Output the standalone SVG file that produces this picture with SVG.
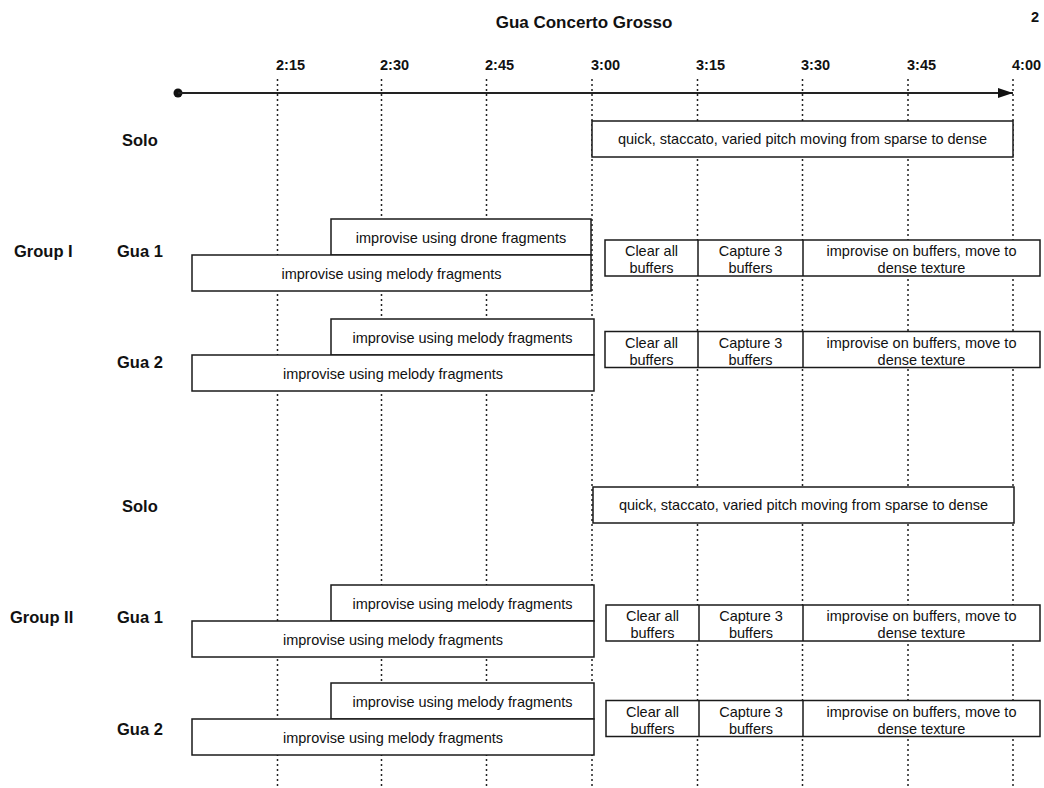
<svg xmlns="http://www.w3.org/2000/svg" width="1044" height="788" viewBox="0 0 1044 788">
<defs>
<style>
text{font-family:"Liberation Sans",Arial,Helvetica,sans-serif;fill:#111}
.title{font-size:17px;font-weight:bold}
.tick{font-size:14.5px;font-weight:bold}
.lab{font-size:16.5px;font-weight:bold}
.bt{font-size:14.5px;text-anchor:middle}
.box{fill:#fff;stroke:#1a1a1a;stroke-width:1.5}
.grid line{stroke:#222;stroke-width:1.5;stroke-dasharray:2 3}
</style>
<marker id="arr" viewBox="0 0 15 10" refX="15" refY="5" markerWidth="15" markerHeight="10" markerUnits="userSpaceOnUse" orient="auto">
<path d="M0,0 L15,5 L0,10 Z" fill="#111"/>
</marker>
</defs>
<rect width="1044" height="788" fill="#fff"/>
<text class="title" x="584" y="28" text-anchor="middle">Gua Concerto Grosso</text>
<text class="tick" x="1031" y="22">2</text>
<g id="ticks" class="tick">
<text class="tick" x="276" y="70">2:15</text>
<text class="tick" x="380" y="70">2:30</text>
<text class="tick" x="485" y="70">2:45</text>
<text class="tick" x="591" y="70">3:00</text>
<text class="tick" x="696" y="70">3:15</text>
<text class="tick" x="801" y="70">3:30</text>
<text class="tick" x="907" y="70">3:45</text>
<text class="tick" x="1012" y="70">4:00</text>
</g>
<g class="grid" id="grid">
<line x1="277.5" y1="79" x2="277.5" y2="788"/>
<line x1="381.5" y1="79" x2="381.5" y2="788"/>
<line x1="486.5" y1="79" x2="486.5" y2="788"/>
<line x1="592" y1="79" x2="592" y2="788"/>
<line x1="697.5" y1="79" x2="697.5" y2="788"/>
<line x1="802.5" y1="79" x2="802.5" y2="788"/>
<line x1="908" y1="79" x2="908" y2="788"/>
<line x1="1013" y1="79" x2="1013" y2="788"/>
</g>
<g id="connectors">
<circle cx="178" cy="93" r="4.5" fill="#111"/>
<line x1="178" y1="93" x2="1013" y2="93" stroke="#222" stroke-width="2" marker-end="url(#arr)"/>
</g>
<g id="labels">
<text class="lab" x="122" y="146">Solo</text>
<text class="lab" x="14" y="257">Group I</text>
<text class="lab" x="117" y="257">Gua 1</text>
<text class="lab" x="117" y="368">Gua 2</text>
<text class="lab" x="122" y="512">Solo</text>
<text class="lab" x="10" y="623">Group II</text>
<text class="lab" x="117" y="623">Gua 1</text>
<text class="lab" x="117" y="735">Gua 2</text>
</g>
<g id="g1-solo"><rect class="box" x="592" y="121" width="421" height="36"/><text class="bt" x="802.5" y="144">quick, staccato, varied pitch moving from sparse to dense</text></g>
<g id="g1-gua1-drone"><rect class="box" x="331" y="219" width="260" height="36"/><text class="bt" x="461" y="243">improvise using drone fragments</text></g>
<g id="g1-gua1-melody"><rect class="box" x="192" y="255" width="399" height="36"/><text class="bt" x="391.5" y="279">improvise using melody fragments</text></g>
<g id="g1-gua1-buffers"><rect class="box" x="605" y="240" width="435" height="36"/><line x1="698" y1="240" x2="698" y2="276" stroke="#1a1a1a" stroke-width="1.5"/><line x1="803" y1="240" x2="803" y2="276" stroke="#1a1a1a" stroke-width="1.5"/>
<text class="bt" x="651.5" y="256">Clear all</text><text class="bt" x="651.5" y="273">buffers</text>
<text class="bt" x="750.5" y="256">Capture 3</text><text class="bt" x="750.5" y="273">buffers</text>
<text class="bt" x="921.5" y="256">improvise on buffers, move to</text><text class="bt" x="921.5" y="273">dense texture</text></g>
<g id="g1-gua2-top"><rect class="box" x="331" y="319" width="263" height="36"/><text class="bt" x="462.5" y="343">improvise using melody fragments</text></g>
<g id="g1-gua2-melody"><rect class="box" x="192" y="355" width="402" height="36"/><text class="bt" x="393" y="379">improvise using melody fragments</text></g>
<g id="g1-gua2-buffers"><rect class="box" x="605" y="331.5" width="435" height="36"/><line x1="698" y1="331.5" x2="698" y2="367.5" stroke="#1a1a1a" stroke-width="1.5"/><line x1="803" y1="331.5" x2="803" y2="367.5" stroke="#1a1a1a" stroke-width="1.5"/>
<text class="bt" x="651.5" y="347.5">Clear all</text><text class="bt" x="651.5" y="364.5">buffers</text>
<text class="bt" x="750.5" y="347.5">Capture 3</text><text class="bt" x="750.5" y="364.5">buffers</text>
<text class="bt" x="921.5" y="347.5">improvise on buffers, move to</text><text class="bt" x="921.5" y="364.5">dense texture</text></g>
<g id="g2-solo"><rect class="box" x="593" y="487" width="421" height="36"/><text class="bt" x="803.5" y="510">quick, staccato, varied pitch moving from sparse to dense</text></g>
<g id="g2-gua1-top"><rect class="box" x="331" y="585" width="263" height="36"/><text class="bt" x="462.5" y="609">improvise using melody fragments</text></g>
<g id="g2-gua1-melody"><rect class="box" x="192" y="621" width="402" height="36"/><text class="bt" x="393" y="645">improvise using melody fragments</text></g>
<g id="g2-gua1-buffers"><rect class="box" x="606" y="605" width="434" height="36"/><line x1="699" y1="605" x2="699" y2="641" stroke="#1a1a1a" stroke-width="1.5"/><line x1="803" y1="605" x2="803" y2="641" stroke="#1a1a1a" stroke-width="1.5"/>
<text class="bt" x="652.5" y="621">Clear all</text><text class="bt" x="652.5" y="638">buffers</text>
<text class="bt" x="751" y="621">Capture 3</text><text class="bt" x="751" y="638">buffers</text>
<text class="bt" x="921.5" y="621">improvise on buffers, move to</text><text class="bt" x="921.5" y="638">dense texture</text></g>
<g id="g2-gua2-top"><rect class="box" x="331" y="683" width="263" height="36"/><text class="bt" x="462.5" y="707">improvise using melody fragments</text></g>
<g id="g2-gua2-melody"><rect class="box" x="192" y="719" width="402" height="36"/><text class="bt" x="393" y="743">improvise using melody fragments</text></g>
<g id="g2-gua2-buffers"><rect class="box" x="606" y="700.5" width="434" height="36"/><line x1="699" y1="700.5" x2="699" y2="736.5" stroke="#1a1a1a" stroke-width="1.5"/><line x1="803" y1="700.5" x2="803" y2="736.5" stroke="#1a1a1a" stroke-width="1.5"/>
<text class="bt" x="652.5" y="716.5">Clear all</text><text class="bt" x="652.5" y="733.5">buffers</text>
<text class="bt" x="751" y="716.5">Capture 3</text><text class="bt" x="751" y="733.5">buffers</text>
<text class="bt" x="921.5" y="716.5">improvise on buffers, move to</text><text class="bt" x="921.5" y="733.5">dense texture</text></g>
</svg>
